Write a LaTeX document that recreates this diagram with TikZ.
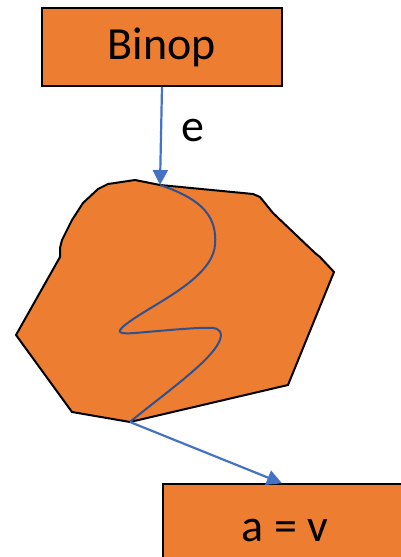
\documentclass[tikz,border=0pt]{standalone}
\usepackage{fontspec}
\setmainfont{Carlito}
\usetikzlibrary{arrows.meta}
\definecolor{boxorange}{HTML}{ED7D31}
\definecolor{arrowblue}{HTML}{4472C4}
\definecolor{pathblue}{HTML}{2F528F}
\tikzset{
  box/.style={draw=black, line width=1.5pt, fill=boxorange, rectangle, inner sep=0pt, font=\fontsize{46}{50}\selectfont},
  flow/.style={draw=arrowblue, line width=2.2pt, -{Triangle[length=15pt,width=15pt]}},
  lbl/.style={font=\fontsize{46}{50}\selectfont, inner sep=0pt}
}
\begin{document}
\begin{tikzpicture}[x=1pt,y=-1pt]
\useasboundingbox (0,0) rectangle (401,557);
\clip (0,0) rectangle (401,557);
\node[box, minimum width=240pt, minimum height=78pt] (binop) at (162,47) {Binop};
\node[box, minimum width=244pt, minimum height=92pt] (av) at (285,530) {a = v};
% blob
\draw[fill=boxorange, line width=2pt, line join=round]
 (160,185) -- (135,180) -- (108,184) -- (98,189) -- (83,203) -- (72,220) -- (62,240) -- (60,248) -- (60,257)
 -- (16,335) -- (72,412) -- (130,422) -- (288,385) -- (334,272) -- (320,257) -- (315,253)
 -- (273,213) -- (260,197) -- (253,194) -- cycle;
\coordinate (blobtop) at (160,185);
\coordinate (blobbot) at (130,422);
\draw[pathblue, line width=2pt]
 (blobtop) .. controls (195,197) and (218,212) .. (215,245)
 .. controls (212,280) and (150,305) .. (125,325)
 .. controls (115,333) and (120,334) .. (135,333)
 .. controls (170,330) and (200,327) .. (213,328)
 .. controls (228,330) and (220,345) .. (205,360)
 .. controls (185,380) and (150,405) .. (blobbot);
\draw[flow] (binop.south) -- (blobtop);
\node[lbl] (e) at (193,131) {e};
\draw[flow] (blobbot) -- (av.north -| 282,0);
\end{tikzpicture}
\end{document}
